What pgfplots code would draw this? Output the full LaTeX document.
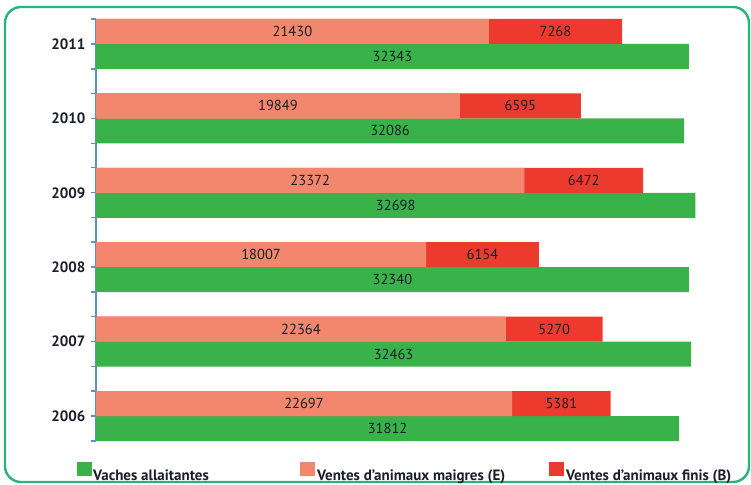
\documentclass[border=0pt]{standalone}
\usepackage{pgfplots}
\usepackage{pgfplotstable}
\pgfplotsset{compat=1.18}
\usepackage{fontspec}
\setmainfont{PT Sans}
\definecolor{cgreen}{RGB}{58,178,74}
\definecolor{csalmon}{RGB}{242,135,110}
\definecolor{cred}{RGB}{236,59,46}
\definecolor{cframe}{RGB}{40,180,120}
\definecolor{caxis}{RGB}{95,145,195}
\definecolor{ctext}{RGB}{25,30,40}

\pgfplotstableread{
year E B G
2006 22697 5381 31812
2007 22364 5270 32463
2008 18007 6154 32340
2009 23372 6472 32698
2010 19849 6595 32086
2011 21430 7268 32343
}\data

\begin{document}
\begin{tikzpicture}
\useasboundingbox (0,0) rectangle (751pt,484pt);
\draw[cframe, line width=2.4pt, rounded corners=16pt] (5pt,2pt) rectangle (749pt,477pt);
\begin{axis}[
  at={(96pt,43pt)}, anchor=south west,
  scale only axis, width=641.6pt, height=422pt,
  xmin=0, xmax=35000, ymin=2005.664, ymax=2011.336,
  xbar, bar width=25pt, bar shift=0pt,
  axis x line=none, axis y line*=left,
  y axis line style={caxis, line width=1.6pt, -},
  every tick/.style={caxis, line width=1.4pt},
  tick align=outside, major tick length=5pt, ytick pos=left,
  ytick={2006,2007,2008,2009,2010,2011},
  yticklabels={2006,2007,2008,2009,2010,2011},
  yticklabel style={font=\bfseries\fontsize{15}{17}\selectfont, text=ctext, xshift=-2pt},
  extra y ticks={2005.664,2006.336,2006.664,2007.336,2007.664,2008.336,2008.664,2009.336,2009.664,2010.336,2010.664,2011.336},
  extra y tick labels={},
  extra y tick style={tick style={caxis, line width=1.4pt}},
  nodes near coords={\pgfmathprintnumber[assume math mode=true,fixed,precision=0,1000 sep={}]{\pgfplotspointmeta}},
  every node near coord/.append style={font=\fontsize{14.5}{16}\selectfont, text=ctext},
  legend columns=3,
  legend style={at={(-0.0296,-0.0735)}, anchor=west, draw=none, fill=none, inner sep=0pt,
    font=\bfseries\fontsize{15}{17}\selectfont, text=ctext, nodes={inner sep=0pt},
    /tikz/every even column/.append style={column sep=0pt}},
  legend image code/.code={\fill[#1] (0pt,-1pt) rectangle (15pt,13pt);},
]
\addplot[draw=none, fill=cgreen, bar shift=0pt, point meta=\thisrow{G},
  visualization depends on={\thisrow{G} \as \seglen},
  every node near coord/.append style={anchor=center, shift={(axis direction cs:-\seglen/2,0)}}]
  table[x=G, y expr=\thisrow{year}-0.168] {\data};
\addlegendentry{\makebox[208pt][l]{\hspace{1pt}Vaches allaitantes}}
\addplot[forget plot, draw=none, fill=cred, bar shift=0pt, point meta=\thisrow{B},
  visualization depends on={\thisrow{B} \as \seglen},
  every node near coord/.append style={anchor=center, shift={(axis direction cs:-\seglen/2,0)}}]
  table[x expr=\thisrow{E}+\thisrow{B}, y expr=\thisrow{year}+0.168] {\data};
\addplot[draw=none, fill=csalmon, bar shift=0pt, point meta=\thisrow{E},
  visualization depends on={\thisrow{E} \as \seglen},
  every node near coord/.append style={anchor=center, shift={(axis direction cs:-\seglen/2,0)}}]
  table[x=E, y expr=\thisrow{year}+0.168] {\data};
\addlegendentry{\makebox[234pt][l]{\hspace{2pt}Ventes d'animaux maigres (E)}}
\addlegendimage{draw=none, fill=cred}
\addlegendentry{\hspace{2pt}Ventes d'animaux finis (B)}
\end{axis}
\end{tikzpicture}
\end{document}
